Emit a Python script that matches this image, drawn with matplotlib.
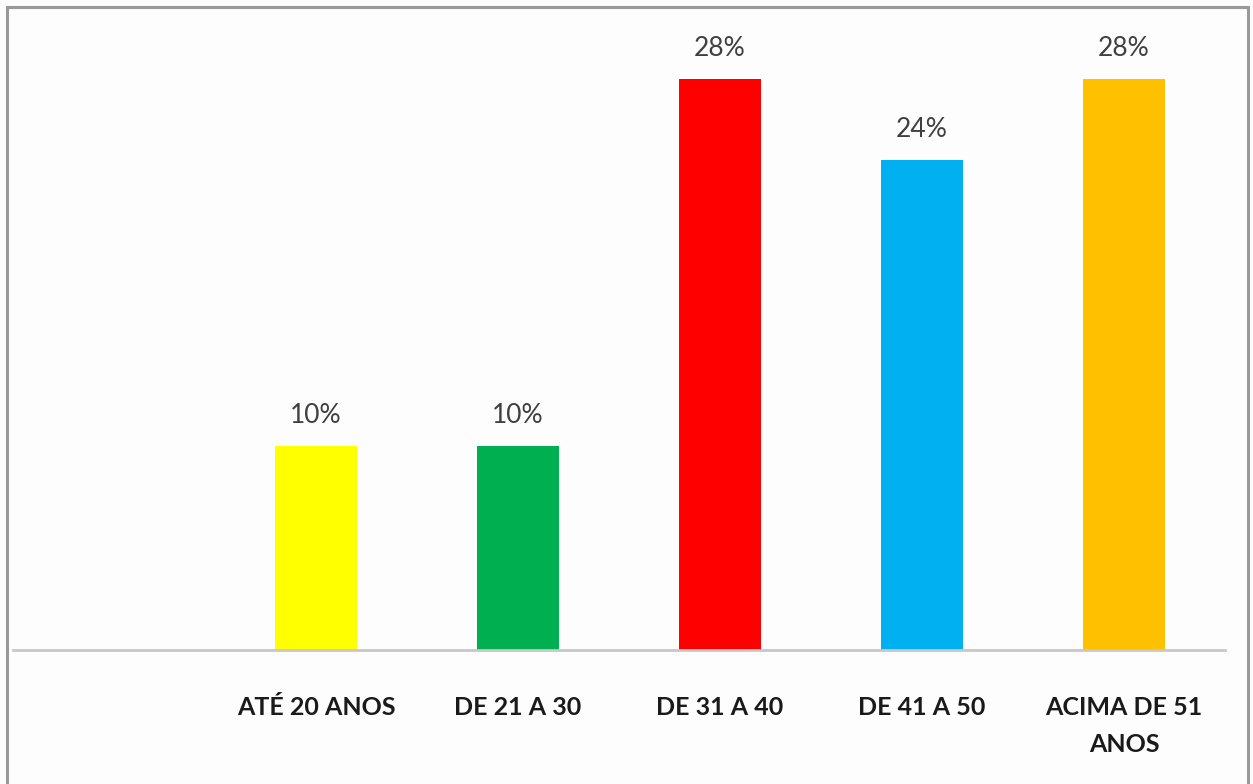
import matplotlib.pyplot as plt
import numpy as np

plt.rcParams.update({"font.family": ["Lato", "DejaVu Sans"]})

categories = ["", "ATÉ 20 ANOS", "DE 21 A 30", "DE 31 A 40", "DE 41 A 50", "ACIMA DE 51\nANOS"]
values = [0, 10, 10, 28, 24, 28]
colors = ["#ffffff", "#ffff00", "#00b050", "#ff0000", "#00b0f0", "#ffc000"]

W, H = 1253, 784
fig = plt.figure(figsize=(W / 100, H / 100), dpi=100, facecolor="#fdfdfd")

# axes spans from the left edge of the baseline to its right end
left, right, base, top = 13, 1225, 650, 30
ax = fig.add_axes([left / W, 1 - base / H, (right - left) / W, (base - top) / H])
ax.set_facecolor("#fdfdfd")

x = np.arange(len(categories))
idx = [i for i, v in enumerate(values) if v > 0]
bars = ax.bar(x[idx], [values[i] for i in idx], width=0.405,
              color=[colors[i] for i in idx], zorder=2)

for b, i in zip(bars, idx):
    ax.annotate(f"{values[i]}%", (b.get_x() + b.get_width() / 2, b.get_height()),
                xytext=(0, 13), textcoords="offset points", ha="center", va="bottom",
                fontsize=19, color="#404040")

ax.set_xlim(-0.5, len(categories) - 0.5)
ax.set_ylim(0, (base - top) / 20.4)
ax.set_yticks([])
ax.set_xticks(x)
ax.set_xticklabels(categories, fontsize=18, fontweight="bold", color="#1a1a1a",
                   linespacing=1.75, va="top")
ax.tick_params(axis="x", length=0, pad=33)
for s in ["top", "right", "left"]:
    ax.spines[s].set_visible(False)
ax.spines["bottom"].set_color("#c8c8c8")
ax.spines["bottom"].set_linewidth(2)

# grey frame round the chart area
frame = plt.Rectangle((6.5 / W, -0.05), (1248 - 6.5) / W, 1 - 6.5 / H + 0.05,
                      transform=fig.transFigure, fill=False, edgecolor="#999999",
                      linewidth=2.2, clip_on=False)
fig.add_artist(frame)

fig.savefig("out.png", dpi=100, facecolor=fig.get_facecolor())
